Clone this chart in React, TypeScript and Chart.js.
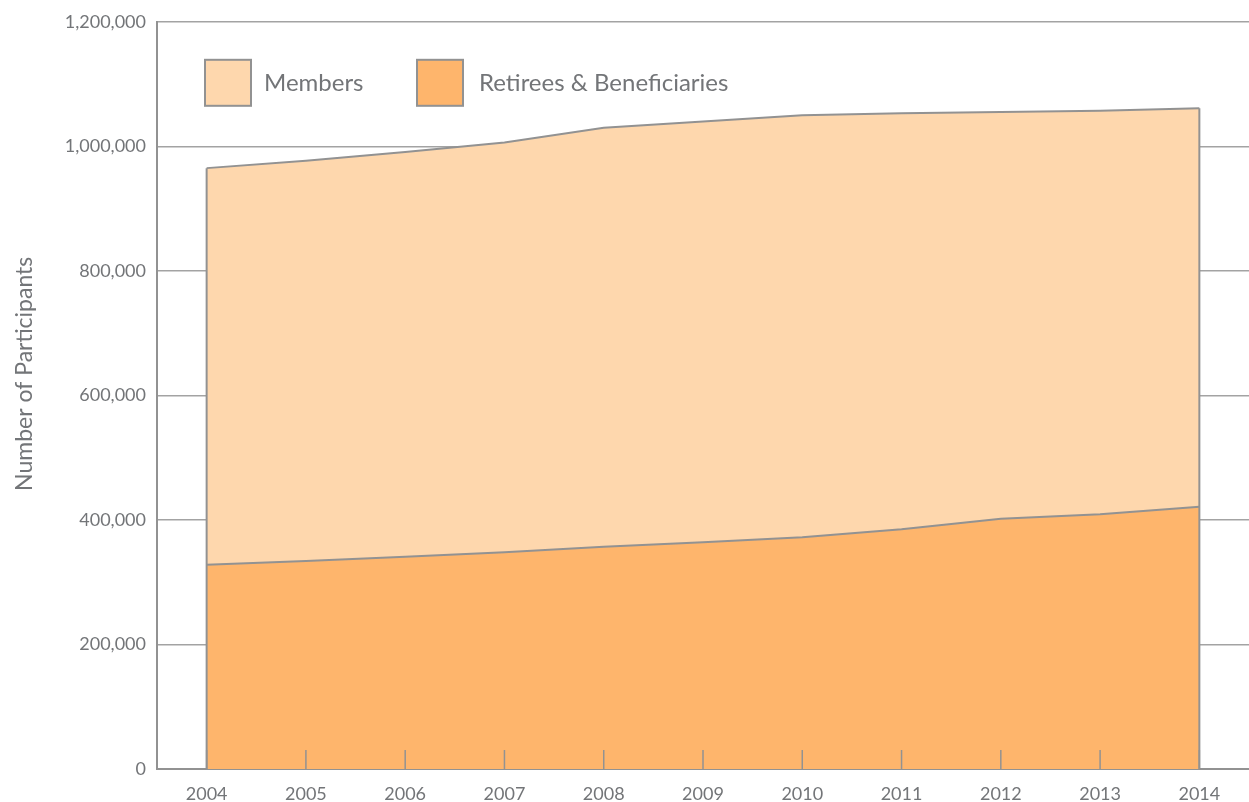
import React, { useEffect, useRef } from "react";
import { Chart, registerables } from "chart.js";

Chart.register(...registerables);

const years = ["2004", "2005", "2006", "2007", "2008", "2009", "2010", "2011", "2012", "2013", "2014"];
const retirees = [328000, 334000, 341000, 348000, 357000, 364000, 372000, 385000, 402000, 409000, 421000];
const members = [637000, 643000, 650000, 658000, 673000, 676000, 678000, 668000, 653000, 648000, 640000];
const yTicks = [0, 200000, 400000, 600000, 800000, 1000000, 1200000];
const legendLabels = ["Members", "Retirees & Beneficiaries"];
const axisTitle = "Number of Participants";

const FONT = "Lato, 'Open Sans', sans-serif";
const TEXT = "#737578";
const LINE = "#929292";
const GRID = "#a3a3a3";
const C_MEMBERS = "#FED7AD";
const C_RETIREES = "#FEB56C";

const decor = {
  id: "decor",
  afterDatasetsDraw(chart: any) {
    const { ctx, chartArea, scales } = chart;
    const xs = scales.x;
    const ys = scales.y;
    ctx.save();
    // inner ticks
    ctx.strokeStyle = LINE;
    ctx.lineWidth = 1.5;
    years.forEach((_, i) => {
      const x = xs.getPixelForValue(i);
      ctx.beginPath();
      ctx.moveTo(x, chartArea.bottom);
      ctx.lineTo(x, chartArea.bottom - 19);
      ctx.stroke();
    });
    // vertical edges of the area
    ctx.lineWidth = 2;
    [0, years.length - 1].forEach((i) => {
      const x = xs.getPixelForValue(i);
      ctx.beginPath();
      ctx.moveTo(x, ys.getPixelForValue(0));
      ctx.lineTo(x, ys.getPixelForValue(retirees[i] + members[i]));
      ctx.stroke();
    });
    // legend
    const colors = [C_MEMBERS, C_RETIREES];
    const boxX = [chartArea.left + 48, chartArea.left + 260];
    const boxY = chartArea.top + 38;
    const size = 46;
    const textGap = [13, 16];
    ctx.font = `24px ${FONT}`;
    ctx.textBaseline = "middle";
    ctx.textAlign = "left";
    legendLabels.forEach((lab, i) => {
      ctx.fillStyle = colors[i];
      ctx.fillRect(boxX[i], boxY, size, size);
      ctx.strokeStyle = LINE;
      ctx.lineWidth = 2;
      ctx.strokeRect(boxX[i], boxY, size, size);
      ctx.fillStyle = TEXT;
      ctx.fillText(lab, boxX[i] + size + textGap[i], boxY + size / 2);
    });
    // axis title
    ctx.save();
    ctx.translate(25, chartArea.top + 352);
    ctx.rotate(-Math.PI / 2);
    ctx.textAlign = "center";
    ctx.textBaseline = "middle";
    ctx.font = `23px ${FONT}`;
    ctx.fillStyle = TEXT;
    ctx.fillText(axisTitle, 0, 0);
    ctx.restore();
    ctx.restore();
  },
};

export default function App() {
  const ref = useRef<HTMLCanvasElement>(null);
  useEffect(() => {
    document.body.style.margin = "0";
    const chart = new Chart(ref.current!, {
      type: "line",
      data: {
        labels: years,
        datasets: [
          {
            label: legendLabels[1],
            data: retirees,
            backgroundColor: C_RETIREES,
            borderColor: LINE,
            borderWidth: 2,
            fill: "origin",
            pointRadius: 0,
            tension: 0,
          },
          {
            label: legendLabels[0],
            data: members,
            backgroundColor: C_MEMBERS,
            borderColor: LINE,
            borderWidth: 2,
            fill: "-1",
            pointRadius: 0,
            tension: 0,
          },
        ],
      },
      options: {
        animation: false,
        responsive: true,
        maintainAspectRatio: false,
        layout: { padding: { top: 19, left: 0, right: 0, bottom: 0 } },
        plugins: { legend: { display: false }, tooltip: { enabled: false } },
        scales: {
          x: {
            type: "category",
            offset: true,
            afterFit: (s: any) => { s.height = 33; },
            grid: { display: true, drawOnChartArea: false, drawTicks: false },
            border: { display: true, color: LINE, width: 2 },
            ticks: { color: TEXT, font: { size: 18, family: FONT }, padding: 14, maxRotation: 0 },
          },
          y: {
            stacked: true,
            min: 0,
            max: 1200000,
            afterFit: (s: any) => { s.width = 157; },
            afterBuildTicks: (s: any) => { s.ticks = yTicks.map((v) => ({ value: v })); },
            grid: { color: GRID, lineWidth: 1.5, drawTicks: false },
            border: { display: true, color: LINE, width: 2 },
            ticks: {
              color: TEXT,
              font: { size: 18, family: FONT },
              padding: 11,
              callback: (v: any) => Number(v).toLocaleString("en-US"),
            },
          },
        },
      },
      plugins: [decor],
    });
    return () => chart.destroy();
  }, []);
  return (
    <div style={{ position: "fixed", left: 0, top: 0, width: 1249, height: 802 }}>
      <canvas ref={ref} />
    </div>
  );
}
